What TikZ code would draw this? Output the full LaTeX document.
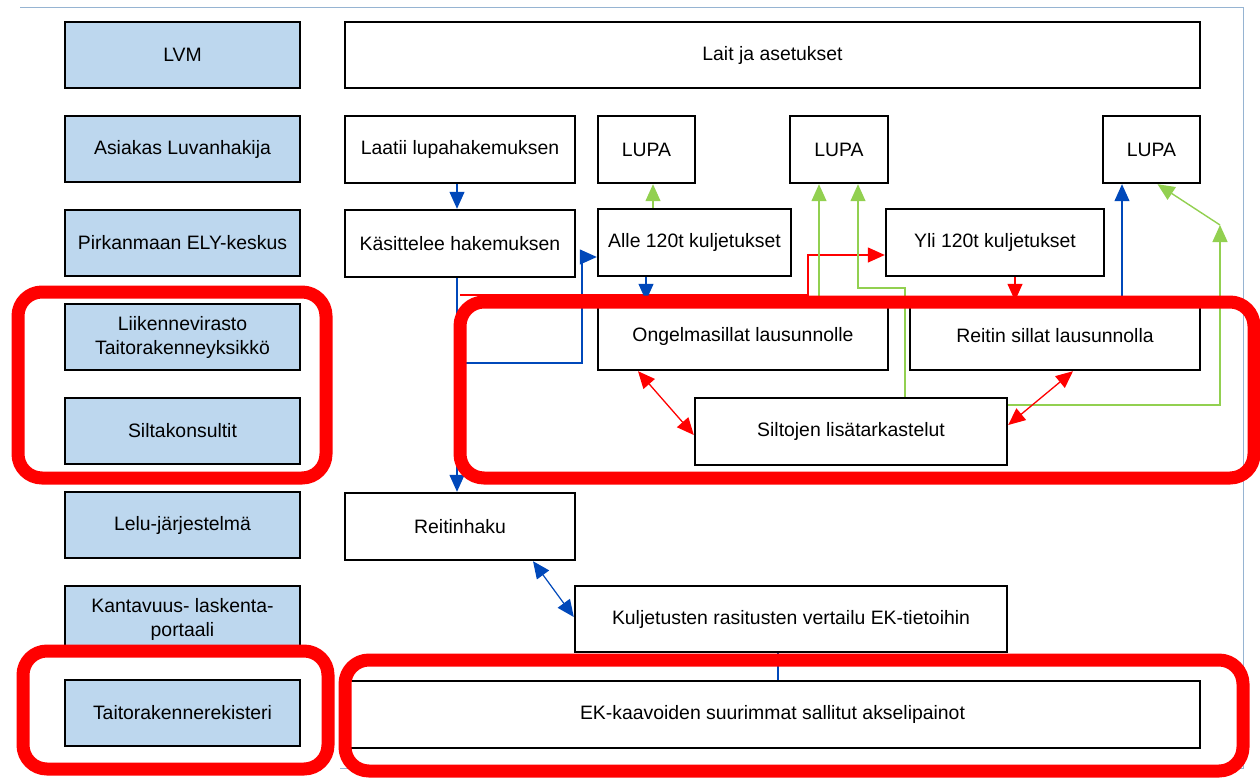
\documentclass[tikz,border=0pt]{standalone}
\usepackage{fontspec}
\setmainfont{Liberation Sans}
\usepackage{xcolor}
\usetikzlibrary{arrows.meta, positioning}

\definecolor{RoleBlue}{RGB}{189,215,238}
\definecolor{FlowBlue}{RGB}{0,72,186}
\definecolor{FlowGreen}{RGB}{146,208,80}
\definecolor{PageEdge}{RGB}{150,180,210}

\begin{document}
\begin{tikzpicture}[x=1pt,y=-1pt,node distance=94pt,on grid,>={Triangle[length=17pt,width=15pt]},
        font=\fontsize{19.4}{24}\selectfont,
        every node/.style={draw=black, line width=2.4pt, align=center, inner sep=2pt},
        role/.style={fill=RoleBlue, minimum width=235pt, minimum height=66pt},
        task/.style={fill=white, minimum height=67pt},
        blueflow/.style={draw=FlowBlue, line width=1.2pt},
        greenflow/.style={draw=FlowGreen, line width=1.4pt},
        redflow/.style={draw=red, line width=1.3pt},
        marker/.style={draw=red, line width=13pt, rounded corners=24pt}]
    \useasboundingbox (0,0) rectangle (1260,779);
    % \draw[help lines] (0,0) grid[step=100] (1260,779);
    \draw[PageEdge, line width=1pt] (20,7) -| (1243,768) -- (340,768);

    % roles
    \node[role] (lvm) at (182.5,55) {LVM};
    \node[role] (ask) [below=of lvm]  {Asiakas Luvanhakija};
    \node[role] (ely) [below=of ask]  {Pirkanmaan ELY-keskus};
    \node[role] (lv)  [below=of ely]  {Liikennevirasto\\Taitorakenneyksikkö};
    \node[role] (sk)  [below=of lv]   {Siltakonsultit};
    \node[role] (lelu) [below=of sk]  {Lelu-järjestelmä};
    \node[role] (kp)  [below=of lelu] {Kantavuus- laskenta-\\portaali};
    \node[role] (tr)  [below=of kp]   {Taitorakennerekisteri};

    % tasks
    \node[task, minimum width=855pt, minimum height=66pt] (lait) at (772.5,55) {Lait ja asetukset};
    \node[task, minimum width=230pt] (laatii) at (460,149.5) {Laatii lupahakemuksen};
    \node[task, minimum width=97pt]  (lupa1) at (646.5,149.5) {LUPA};
    \node[task, minimum width=98pt]  (lupa2) at (839,149.5) {LUPA};
    \node[task, minimum width=97pt]  (lupa3) at (1151.5,149.5) {LUPA};
    \node[task, minimum width=230pt] (kasit) [below=of laatii] {Käsittelee hakemuksen};
    \node[task, minimum width=193pt] (alle) at (694.5,242.5) {Alle 120t kuljetukset};
    \node[task, minimum width=218pt] (yli) at (995,242.5) {Yli 120t kuljetukset};
    \node[task, minimum width=290pt, minimum height=68pt] (ongel) at (743,336) {Ongelmasillat lausunnolle};
    \node[task, minimum width=290pt, minimum height=68pt] (reitin) at (1055,336) {Reitin sillat lausunnolla};
    \node[task, minimum width=312pt] (siltojen) at (851,431.5) {Siltojen lisätarkastelut};
    \node[task, minimum width=230pt] (haku) at (460,526.5) {Reitinhaku};
    \node[task, minimum width=432pt, minimum height=66pt] (vert) at (791,619) {Kuljetusten rasitusten vertailu EK-tietoihin};
    \node[task, minimum width=855pt] (ek) at (772.5,714.5) {EK-kaavoiden suurimmat sallitut akselipainot};

    \coordinate (split) at (457,363);
    \coordinate (splitred) at (460,295);
    \coordinate (kink) at (1220,225);

    % flows
    \draw[blueflow,->] ([xshift=-3pt]laatii.south) -- ([xshift=-3pt]kasit.north);
    \draw[blueflow,->] ([xshift=-3pt]kasit.south) -- ([xshift=-3pt]haku.north);
    \draw[blueflow,->] (split) -- ++(125,0) |- ([yshift=-14.5pt]alle.west);
    \draw[redflow,->] (splitred) -- ++(348,0) |- ([yshift=-12.5pt]yli.west);
    \draw[blueflow,->] ([xshift=-48.5pt]alle.south) -- ([xshift=-48.5pt]alle.south |- ongel.north);
    \draw[greenflow,->] ([xshift=6.5pt]lupa1.south |- alle.north) -- ([xshift=6.5pt]lupa1.south);
    \draw[greenflow,->] ([xshift=-20pt]lupa2.south |- ongel.north) -- ([xshift=-20pt]lupa2.south);
    \draw[greenflow,->] ([xshift=54pt]siltojen.north) -- ++(0,-109) -| ([xshift=19pt]lupa2.south);
    \draw[redflow,->] ([xshift=20pt]yli.south) -- ([xshift=20pt]yli.south |- reitin.north);
    \draw[blueflow,->] ([xshift=-29.5pt]lupa3.south |- reitin.north) -- ([xshift=-29.5pt]lupa3.south);
    \draw[greenflow,->] ([yshift=26.5pt]siltojen.east) -| (kink);
    \draw[greenflow,->] (kink) -- ([xshift=6pt]lupa3.south);
    \draw[redflow,<->] ([xshift=-105pt]ongel.south) -- ([yshift=-3.5pt]siltojen.west);
    \draw[redflow,<->] ([xshift=18pt]reitin.south) -- ([yshift=6.5pt]siltojen.east);
    \draw[blueflow,<->] ([xshift=73pt]haku.south) -- ([yshift=2pt]vert.west);
    \draw[blueflow] ([xshift=-13pt]vert.south) -- ([xshift=-13pt]vert.south |- ek.north);

    % red highlight frames
    \draw[marker] (18,292) rectangle (326,478);
    \draw[marker] (460,302) rectangle (1254,478);
    \draw[marker] (23,651) rectangle (328,769);
    \draw[marker] (345,660) rectangle (1243,771);
\end{tikzpicture}
\end{document}
